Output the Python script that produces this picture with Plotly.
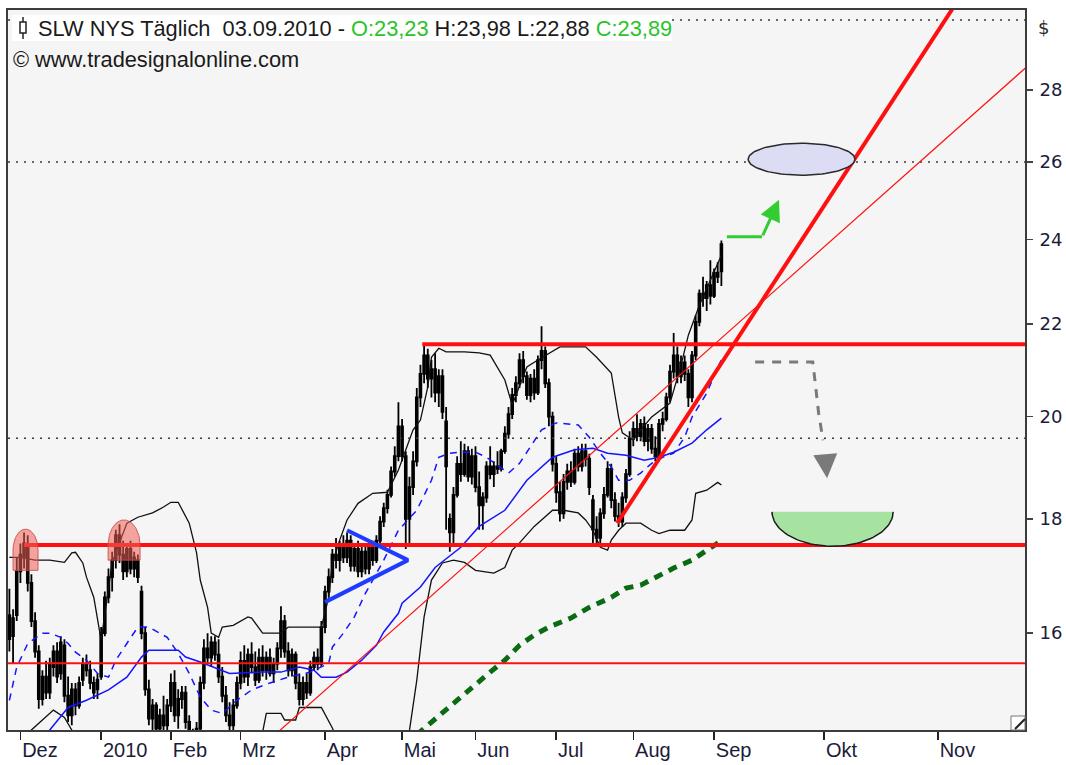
import math
import plotly.graph_objects as go

# ---------------- data ----------------
bar_index = list(range(-3, 192))
open_ = [16.30, 15.95, 16.30, 17.05, 17.30, 17.50, 16.85, 16.20, 15.70, 14.95, 15.30, 15.05, 15.45, 15.70, 15.35, 15.80,
         15.00, 14.70, 15.10, 14.85, 15.25, 15.50, 15.40, 15.20, 15.10, 15.30, 16.00, 16.60, 16.95, 17.25, 17.70, 17.35,
         17.05, 17.45, 17.10, 17.25, 16.70, 16.00, 15.10, 14.65, 14.85, 14.50, 14.70, 14.55, 14.85, 15.20, 14.70, 14.95,
         15.05, 14.60, 14.40, 14.10, 14.50, 15.20, 15.75, 15.60, 15.85, 15.65, 15.30, 15.00, 14.70, 14.55, 14.85, 15.20,
         15.55, 15.30, 15.65, 15.45, 15.25, 15.60, 15.40, 15.60, 15.35, 15.50, 15.75, 16.20, 15.70, 15.40, 15.65, 15.20,
         14.95, 15.20, 15.05, 15.45, 15.60, 15.50, 16.10, 16.70, 16.95, 17.35, 17.25, 17.50, 17.30, 17.60, 17.15, 17.45,
         17.05, 17.40, 17.10, 17.50, 17.25, 17.60, 17.95, 18.20, 18.45, 18.90, 19.20, 19.80, 19.20, 18.00, 18.60, 19.10,
         20.40, 20.90, 21.30, 20.80, 21.00, 20.50, 20.85, 19.90, 18.00, 17.75, 18.45, 19.05, 18.85, 19.30, 18.80, 19.20,
         18.60, 18.25, 18.40, 19.00, 18.85, 19.00, 18.95, 19.30, 19.65, 20.05, 20.45, 20.70, 21.20, 20.85, 20.45, 20.80,
         20.50, 21.20, 21.40, 20.70, 20.00, 19.05, 18.50, 18.10, 18.70, 18.90, 18.70, 19.25, 19.00, 19.30, 19.15, 18.35,
         17.80, 17.65, 18.10, 18.45, 18.95, 18.35, 18.05, 17.95, 18.40, 18.85, 19.55, 19.75, 19.60, 19.85, 19.50, 19.75,
         19.35, 19.20, 19.85, 19.95, 20.40, 20.95, 21.30, 20.85, 21.15, 20.90, 20.40, 21.30, 22.05, 22.70, 22.60, 22.90,
         22.65, 23.20, 23.23]
high = [16.75, 16.40, 17.30, 17.55, 17.75, 17.70, 17.00, 16.35, 15.80, 15.40, 15.55, 15.60, 15.80, 15.85, 15.95, 15.90,
        15.30, 15.20, 15.20, 15.30, 15.60, 15.65, 15.55, 15.30, 15.35, 16.10, 16.70, 17.10, 17.40, 17.80, 17.90, 17.60,
        17.55, 17.60, 17.40, 17.35, 16.80, 16.10, 15.25, 14.95, 14.90, 14.80, 15.00, 14.95, 15.35, 15.40, 15.10, 15.15,
        15.15, 14.70, 14.50, 14.60, 15.30, 15.90, 16.00, 15.95, 15.95, 15.90, 15.45, 15.15, 14.90, 14.95, 15.30, 15.70,
        15.80, 15.75, 15.85, 15.70, 15.75, 15.80, 15.70, 15.75, 15.60, 15.85, 16.45, 16.30, 15.85, 15.75, 15.70, 15.35,
        15.30, 15.35, 15.55, 15.70, 15.75, 16.20, 16.80, 17.10, 17.45, 17.65, 17.60, 17.70, 17.75, 17.70, 17.55, 17.60,
        17.50, 17.55, 17.60, 17.60, 17.70, 18.05, 18.30, 18.55, 19.00, 19.40, 20.30, 19.95, 19.30, 18.80, 19.30, 20.60,
        21.10, 21.55, 21.45, 21.20, 21.35, 21.00, 21.00, 20.20, 18.10, 18.60, 19.20, 19.50, 19.45, 19.40, 19.35, 19.40,
        18.90, 18.50, 19.10, 19.40, 19.10, 19.30, 19.35, 19.80, 20.20, 20.60, 20.85, 21.35, 21.40, 20.95, 20.90, 21.00,
        21.30, 21.95, 21.50, 20.80, 20.10, 19.20, 18.70, 18.85, 19.05, 19.10, 19.35, 19.40, 19.45, 19.45, 19.25, 18.45,
        18.05, 18.20, 18.60, 19.10, 19.05, 18.50, 18.30, 18.50, 18.95, 19.70, 19.90, 20.05, 19.95, 20.00, 19.85, 19.85,
        19.60, 19.95, 20.10, 20.50, 21.10, 21.80, 21.50, 21.30, 21.30, 21.00, 21.40, 22.20, 22.80, 23.10, 23.00, 23.50,
        23.30, 23.45, 23.98]
low = [15.70, 15.50, 16.20, 16.85, 17.10, 16.70, 16.10, 15.60, 14.80, 14.85, 14.95, 14.95, 15.30, 15.20, 15.25, 14.90,
       14.60, 14.55, 14.70, 14.80, 15.15, 15.30, 15.10, 14.95, 14.95, 15.25, 15.95, 16.50, 16.70, 17.10, 17.20, 16.90,
       16.95, 17.00, 16.95, 16.85, 15.90, 15.00, 14.55, 14.30, 14.35, 14.30, 14.40, 14.40, 14.75, 14.60, 14.50, 14.80,
       14.50, 14.30, 14.00, 14.00, 14.45, 15.10, 15.50, 15.45, 15.55, 15.20, 14.90, 14.60, 14.45, 14.45, 14.80, 15.10,
       15.20, 15.15, 15.35, 15.15, 15.20, 15.30, 15.25, 15.30, 15.20, 15.40, 15.60, 15.60, 15.30, 15.30, 15.10, 14.85,
       14.85, 14.95, 15.00, 15.40, 15.40, 15.45, 16.00, 16.60, 16.85, 17.10, 17.05, 17.20, 17.20, 17.05, 17.05, 16.95,
       16.95, 17.00, 17.00, 17.15, 17.20, 17.55, 17.85, 18.10, 18.40, 18.80, 19.10, 19.10, 17.45, 17.55, 18.45, 19.00,
       20.20, 20.70, 20.60, 20.40, 20.30, 20.20, 19.95, 17.80, 17.40, 17.55, 18.40, 18.70, 18.80, 18.70, 18.65, 18.50,
       17.80, 17.80, 18.30, 18.75, 18.60, 18.85, 18.90, 19.25, 19.55, 19.95, 20.30, 20.60, 20.70, 20.35, 20.30, 20.35,
       20.45, 21.00, 20.60, 19.80, 18.90, 18.30, 17.95, 18.00, 18.55, 18.60, 18.65, 18.90, 18.90, 19.00, 18.45, 17.55,
       17.50, 17.55, 18.00, 18.40, 18.20, 17.95, 17.85, 17.85, 18.30, 18.80, 19.40, 19.50, 19.50, 19.40, 19.30, 19.25,
       19.10, 19.10, 19.70, 19.90, 20.30, 20.80, 20.70, 20.70, 20.75, 20.20, 20.30, 21.20, 21.95, 22.40, 22.30, 22.45,
       22.60, 22.95, 22.88]
close = [15.90, 16.25, 17.05, 17.35, 17.55, 16.85, 16.20, 15.70, 14.95, 15.30, 15.05, 15.50, 15.70, 15.30, 15.85, 15.00,
         14.70, 15.10, 14.85, 15.20, 15.50, 15.40, 15.20, 15.05, 15.25, 16.00, 16.60, 16.95, 17.25, 17.70, 17.35, 17.05,
         17.45, 17.10, 17.30, 16.95, 16.00, 15.10, 14.65, 14.85, 14.50, 14.70, 14.55, 14.85, 15.20, 14.70, 14.95, 15.05,
         14.60, 14.40, 14.10, 14.50, 15.20, 15.75, 15.60, 15.85, 15.65, 15.30, 15.00, 14.70, 14.55, 14.85, 15.20, 15.55,
         15.30, 15.65, 15.45, 15.25, 15.60, 15.40, 15.60, 15.35, 15.50, 15.75, 16.20, 15.70, 15.40, 15.65, 15.20, 14.95,
         15.20, 15.05, 15.45, 15.60, 15.50, 16.10, 16.70, 16.95, 17.35, 17.25, 17.50, 17.30, 17.60, 17.15, 17.45, 17.05,
         17.40, 17.10, 17.50, 17.25, 17.60, 17.95, 18.20, 18.45, 18.90, 19.20, 19.80, 19.20, 18.00, 18.60, 19.10, 20.40,
         20.90, 21.30, 20.80, 21.00, 20.50, 20.85, 20.10, 19.00, 17.75, 18.45, 19.05, 18.85, 19.30, 18.80, 19.20, 18.60,
         18.25, 18.40, 19.00, 18.85, 19.00, 18.95, 19.30, 19.65, 20.05, 20.45, 20.70, 21.20, 20.85, 20.45, 20.80, 20.50,
         21.20, 21.40, 20.70, 20.00, 19.05, 18.50, 18.10, 18.70, 18.90, 18.70, 19.25, 19.00, 19.30, 19.15, 18.60, 17.80,
         17.65, 18.10, 18.45, 18.95, 18.35, 18.05, 17.95, 18.40, 18.85, 19.55, 19.75, 19.60, 19.85, 19.50, 19.75, 19.35,
         19.20, 19.85, 19.95, 20.40, 20.95, 21.30, 20.85, 21.15, 20.90, 20.40, 21.30, 22.05, 22.70, 22.60, 22.90, 22.65,
         23.20, 23.10, 23.89]

# Bollinger bands (upper / lower)
bb_upper_x = [-3, 0, 4, 8, 12, 14, 15, 17, 18, 20, 22, 23, 24, 25, 27, 29, 32, 36, 39, 41, 43, 46, 48, 49, 51, 52, 54,
              55, 58, 62, 63, 66, 71, 73, 78, 82, 84, 85, 87, 89, 92, 96, 100, 103, 107, 109, 111, 112, 114, 116, 121,
              125, 128, 130, 132, 134, 136, 138, 141, 147, 154, 157, 161, 162, 163, 164, 167, 169, 172, 177, 180, 182,
              185, 188, 191]
bb_upper = [17.30, 17.30, 17.25, 17.25, 17.21, 17.38, 17.39, 17.20, 16.95, 16.60, 15.88, 16.30, 16.81, 17.21, 17.56,
            17.92, 18.03, 18.11, 18.22, 18.31, 18.31, 17.92, 17.38, 16.90, 16.43, 16.00, 15.93, 16.10, 16.13, 16.27,
            16.25, 16.00, 16.00, 16.10, 16.10, 16.10, 16.60, 17.20, 17.61, 17.98, 18.29, 18.48, 18.50, 18.93, 19.73,
            19.93, 20.62, 21.26, 21.46, 21.38, 21.38, 21.36, 21.31, 21.05, 20.77, 20.24, 20.62, 21.05, 21.20, 21.49,
            21.49, 21.26, 20.92, 20.49, 19.99, 19.67, 19.52, 19.73, 19.99, 20.28, 21.09, 21.75, 22.43, 23.02, 23.62]
bb_lower_x = [-3, 1, 3, 8, 9, 12, 14, 16, 30, 45, 60, 66, 67, 71, 72, 75, 76, 82, 85, 87, 95, 103, 105, 108, 110,
              112, 115, 118, 121, 124, 129, 132, 134, 136, 140, 142, 145, 148, 152, 154, 156, 158, 160, 161, 163,
              165, 169, 172, 174, 177, 181, 183, 184, 187, 190, 191]
bb_lower = [14.00, 14.26, 14.48, 14.73, 14.78, 14.67, 14.48, 14.26, 13.60, 13.30, 13.80, 14.45, 14.73, 14.73, 14.63,
            14.63, 14.82, 14.82, 14.51, 14.26, 13.90, 13.90, 14.10, 15.24, 16.27, 16.90, 17.20, 17.25, 17.21, 17.07,
            17.02, 17.12, 17.43, 17.56, 17.86, 17.98, 18.16, 18.16, 18.11, 17.98, 17.79, 17.48, 17.43, 17.61, 17.79,
            17.92, 17.92, 17.79, 17.73, 17.79, 17.79, 17.98, 18.48, 18.54, 18.69, 18.64]

# moving averages
ma_slow_x = [5, 8, 13, 18, 24, 29, 33, 35, 43, 45, 49, 57, 66, 71, 76, 80, 82, 86, 89, 93, 97, 99, 103, 104, 109,
             113, 120, 125, 132, 138, 145, 151, 156, 160, 165, 170, 174, 178, 183, 187, 191]
ma_slow = [14.26, 14.48, 14.82, 14.93, 15.09, 15.29, 15.61, 15.72, 15.72, 15.61, 15.53, 15.35, 15.37, 15.37, 15.45,
           15.40, 15.29, 15.29, 15.37, 15.56, 15.80, 16.02, 16.33, 16.50, 16.78, 17.12, 17.48, 17.86, 18.16, 18.73,
           19.18, 19.33, 19.36, 19.26, 19.22, 19.12, 19.18, 19.28, 19.46, 19.73, 19.97]
ma_fast_x = [-3, -1, 2, 6, 8, 11, 13, 15, 18, 21, 24, 26, 29, 32, 35, 40, 43, 46, 49, 52, 55, 59, 63, 68, 73, 79,
             84, 85, 88, 91, 94, 99, 103, 108, 112, 114, 117, 120, 124, 127, 131, 133, 136, 139, 142, 146, 152, 155,
             158, 161, 163, 166, 169, 172, 175, 178, 181, 183, 187, 190, 191]
ma_fast = [14.93, 15.45, 15.83, 16.00, 16.00, 15.93, 15.83, 15.69, 15.56, 15.35, 15.29, 15.56, 15.83, 16.10, 16.10,
           15.93, 15.67, 15.35, 14.98, 14.78, 14.73, 14.93, 15.09, 15.20, 15.29, 15.37, 15.51, 15.77, 16.00, 16.27,
           16.67, 17.25, 17.79, 18.16, 18.73, 19.18, 19.26, 19.28, 19.28, 19.18, 18.97, 18.87, 19.06, 19.39, 19.73,
           19.87, 19.83, 19.58, 19.26, 18.99, 18.73, 18.73, 18.87, 19.06, 19.18, 19.26, 19.58, 19.99, 20.49, 21.05,
           21.20]
ma_long_x = [108, 112, 116, 120, 124, 128, 132, 136, 140, 144, 150, 155, 161, 165, 169, 173, 178, 183, 187, 191]
ma_long = [14.41, 14.60, 14.78, 14.98, 15.17, 15.37, 15.56, 15.80, 15.97, 16.10, 16.25, 16.43, 16.60, 16.76, 16.81,
           16.95, 17.11, 17.25, 17.43, 17.60]

# axis ticks
month_ticks = [0, 22, 41, 60, 83, 104, 124, 146, 167, 189, 219, 250]
month_labels = ["Dez", "2010", "Feb", "Mrz", "Apr", "Mai", "Jun", "Jul", "Aug", "Sep", "Okt", "Nov"]
price_ticks = [16, 18, 20, 22, 24, 26, 28]
x_range = [-3.38, 273.73]
y_range = [14.48, 30.41]

# drawings
resistance_level = 21.55
resistance_start = 109.5
support_level = 17.52
support_start = 1
low_level = 15.51
dotted_levels = [30.10, 26.00, 19.56]
trend_thin_x = [70, 274]
trend_thin_y = [14.44, 28.66]
trend_steep_x = [162.6, 256]
trend_steep_y = [17.92, 30.81]
triangle_x = [83.0, 105.6, 89.0]
triangle_y = [16.52, 17.25, 17.79]
target_x = [198.3, 227.4]
target_y = [25.65, 26.51]
up_arrow_x = [192.5, 202.1, 206.7]
up_arrow_y = [24.07, 24.07, 25.01]
down_arrow_x = [200.2, 215.9, 216.7, 217.5, 218.7, 219.3, 219.8]
down_arrow_y = [21.16, 21.16, 20.62, 20.07, 19.52, 19.25, 18.77]
bowl_x = [204.8, 237.8]
bowl_y = [17.50, 18.13]
dome_x = [[-2.0, 4.8], [23.9, 32.6]]
dome_y = [[17.07, 17.43, 17.81], [17.25, 17.52, 17.98]]

FONT = "Liberation Sans, Arial, sans-serif"
RED = "#ff1010"

fig = go.Figure()


def add_line(x, y, color, width, dash=None, shape="linear"):
    fig.add_trace(go.Scatter(x=x, y=y, mode="lines", hoverinfo="skip",
                             line=dict(color=color, width=width, dash=dash, shape=shape)))


def half_ellipse(x0, x1, ybase, ytop, t0, t1, n=48):
    xc, rx = (x0 + x1) / 2, (x1 - x0) / 2
    lb, lt = math.log10(ybase), math.log10(ytop)
    xs, ys = [], []
    for k in range(n + 1):
        t = t0 + (t1 - t0) * k / n
        xs.append(xc + rx * math.cos(t))
        ys.append(10 ** (lb + (lt - lb) * math.sin(t)))
    return xs, ys


# indicator lines
add_line(bb_upper_x, bb_upper, "#101010", 1.3)
add_line(bb_lower_x, bb_lower, "#101010", 1.3)
add_line(ma_slow_x, ma_slow, "#1414ff", 1.5)
add_line(ma_fast_x, ma_fast, "#1414ff", 1.5, dash="7px,6px")
add_line(ma_long_x, ma_long, "#0b6b12", 5, dash="9px,7px")

# candles
fig.add_trace(go.Candlestick(
    x=bar_index, open=open_, high=high, low=low, close=close,
    increasing=dict(line=dict(color="black", width=1.8), fillcolor="white"),
    decreasing=dict(line=dict(color="black", width=1.8), fillcolor="black"),
    whiskerwidth=0, hoverinfo="skip"))

# horizontal levels
for lvl in dotted_levels:
    add_line([x_range[0], x_range[1]], [lvl, lvl], "#3a3a3a", 1.5, dash="2px,6px")
add_line([x_range[0], x_range[1]], [low_level, low_level], RED, 2)
add_line([support_start, x_range[1]], [support_level, support_level], RED, 4)
add_line([resistance_start, x_range[1]], [resistance_level, resistance_level], RED, 4)

# trend lines
add_line(trend_thin_x, trend_thin_y, RED, 1.2)
add_line(trend_steep_x, trend_steep_y, RED, 4)

# triangle
add_line(triangle_x, triangle_y, "#1e3cff", 4)

# red domes
for (dx, dy) in zip(dome_x, dome_y):
    xs, ys = half_ellipse(dx[0], dx[1], dy[1], dy[2], 0, math.pi)
    xs = xs + [dx[0], dx[1], xs[0]]
    ys = ys + [dy[0], dy[0], ys[0]]
    fig.add_trace(go.Scatter(x=xs, y=ys, mode="lines", fill="toself", hoverinfo="skip",
                             fillcolor="rgba(238,95,85,0.55)",
                             line=dict(color="rgba(205,70,70,0.85)", width=1)))

# target ellipse
ex, ey = half_ellipse(target_x[0], target_x[1], math.sqrt(target_y[0] * target_y[1]), target_y[1], 0, 2 * math.pi, 96)
fig.add_trace(go.Scatter(x=ex, y=ey, mode="lines", fill="toself", hoverinfo="skip",
                         fillcolor="#dcdcf4", line=dict(color="#2a2a2a", width=1.5)))

# green bowl (flat top, rounded bottom)
bx, by = half_ellipse(bowl_x[0], bowl_x[1], bowl_y[1], bowl_y[0], 0, math.pi, 60)
fig.add_trace(go.Scatter(x=bx + [bx[0]], y=by + [by[0]], mode="lines", fill="toself", hoverinfo="skip",
                         fillcolor="#a6e3a0", line=dict(width=0, color="rgba(0,0,0,0)")))
add_line(bx, by, "#1a1a1a", 1.5)

# arrows
add_line(up_arrow_x[:2], up_arrow_y[:2], "#33cc33", 3)
add_line(down_arrow_x[:5], down_arrow_y[:5], "#7a7a7a", 3, dash="9px,8px")

annotations = [
    dict(x=up_arrow_x[2], y=math.log10(up_arrow_y[2]), ax=up_arrow_x[1], ay=math.log10(up_arrow_y[1]),
         xref="x", yref="y", axref="x", ayref="y", text="", showarrow=True,
         arrowhead=2, arrowsize=1.4, arrowwidth=3, arrowcolor="#33cc33"),
    dict(x=down_arrow_x[6], y=math.log10(down_arrow_y[6]), ax=down_arrow_x[5], ay=math.log10(down_arrow_y[5]),
         xref="x", yref="y", axref="x", ayref="y", text="", showarrow=True,
         arrowhead=2, arrowsize=1.6, arrowwidth=3, arrowcolor="#7a7a7a"),
]


def px_x(p):
    return (p - 8) / 1017


def px_y(p):
    return (730 - p) / 720


title_html = ("SLW NYS Täglich  03.09.2010 - <span style='color:#2ac32a'>O:23,23</span> H:23,98 L:22,88 "
              "<span style='color:#2ac32a'>C:23,89</span>")
annotations += [
    dict(x=px_x(36), y=px_y(28), xref="paper", yref="paper", xanchor="left", yanchor="middle",
         text=title_html, showarrow=False, font=dict(family=FONT, size=21.8, color="#1a1a1a")),
    dict(x=px_x(11), y=px_y(60), xref="paper", yref="paper", xanchor="left", yanchor="middle",
         text="© www.tradesignalonline.com", showarrow=False, font=dict(family=FONT, size=21.8, color="#1a1a1a")),
    dict(x=px_x(1036), y=px_y(27), xref="paper", yref="paper", xanchor="left", yanchor="middle",
         text="$", showarrow=False, font=dict(family="DejaVu Sans, Verdana, sans-serif", size=18, color="#2a2a2a")),
]

shapes = [
    dict(type="rect", xref="paper", yref="paper", x0=px_x(12), x1=px_x(672), y0=px_y(41), y1=px_y(15),
         fillcolor="white", line=dict(width=0), layer="above"),
    dict(type="line", xref="paper", yref="paper", x0=px_x(23), x1=px_x(23), y0=px_y(39), y1=px_y(17),
         line=dict(color="#222", width=1.5), layer="above"),
    dict(type="rect", xref="paper", yref="paper", x0=px_x(20), x1=px_x(26), y0=px_y(33), y1=px_y(22),
         fillcolor="white", line=dict(color="#222", width=1.5), layer="above"),
    dict(type="rect", xref="paper", yref="paper", x0=px_x(1011), x1=px_x(1025), y0=px_y(730), y1=px_y(716),
         fillcolor="white", line=dict(color="#777", width=1), layer="above"),
    dict(type="line", xref="paper", yref="paper", x0=px_x(1015), x1=px_x(1025), y0=px_y(729), y1=px_y(719),
         line=dict(color="#222", width=2), layer="above"),
]

fig.update_layout(
    width=1066, height=765,
    margin=dict(l=8, r=41, t=10, b=35, autoexpand=False),
    paper_bgcolor="white", plot_bgcolor="#f5f5f5",
    showlegend=False, hovermode=False,
    annotations=annotations, shapes=shapes,
    xaxis=dict(range=x_range, tickvals=month_ticks, ticktext=month_labels, automargin=False,
               ticks="outside", ticklen=8, tickwidth=1.5, tickcolor="#222",
               ticklabelposition="outside right", ticklabelstandoff=1,
               tickfont=dict(family=FONT, size=20, color="#1b1b3a"),
               showgrid=False, zeroline=False, showline=True, mirror=True,
               linecolor="#3c3c3c", linewidth=2, rangeslider=dict(visible=False), fixedrange=True),
    yaxis=dict(type="log", range=[math.log10(y_range[0]), math.log10(y_range[1])], side="right", automargin=False,
               tickvals=price_ticks, ticktext=[str(v) for v in price_ticks],
               ticks="outside", ticklen=6, tickwidth=1.5, tickcolor="#444",
               ticklabelstandoff=3,
               tickfont=dict(family="DejaVu Sans, Verdana, sans-serif", size=18, color="#1b1b3a"),
               showgrid=False, zeroline=False, showline=True, mirror=True,
               linecolor="#3c3c3c", linewidth=2, fixedrange=True),
)

fig.write_html("out.html", config={"displayModeBar": False, "staticPlot": True},
               post_script="document.body.style.margin='0px';document.body.style.overflow='hidden';")
